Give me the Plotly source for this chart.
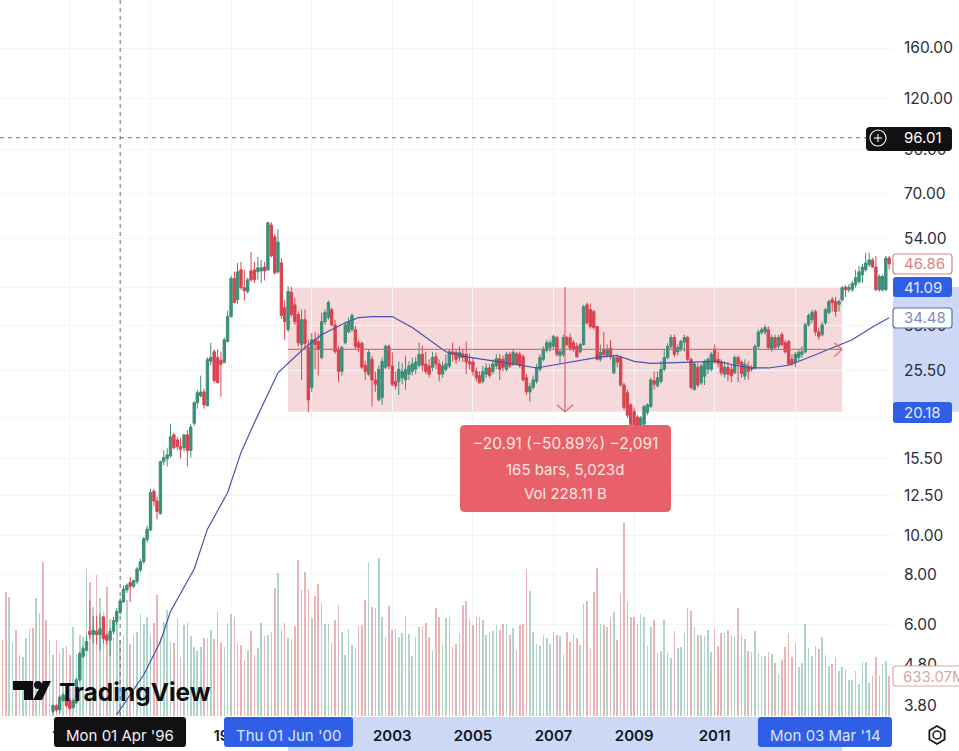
import pandas as pd
import plotly.graph_objects as go

# Monthly share price candles, Aug 1994 to May 2015
candle_dates = pd.date_range("1994-08-01", periods=250, freq="MS")

opens = [
    3.67, 3.79, 3.70, 3.90, 3.98,
    3.90, 3.75, 3.85, 4.39, 5.01, 5.19, 5.79, 5.68, 5.79, 5.68, 6.28, 5.65,
    5.50, 5.79, 6.12, 6.44, 6.84, 7.32, 7.64, 7.48, 7.68, 8.20, 8.60, 9.75,
    10.30, 12.85, 12.15, 11.3, 15.2, 15.45, 15.7, 17.7, 17.2, 16.55, 16.45, 17.7,
    16.2, 18.9, 21.25, 22.1, 22.6, 20.9, 26.9, 28.4, 27.5, 27.05, 26.75, 30.1,
    34.7, 43.1, 38.2, 45.3, 40.9, 40.0, 45.0, 45.3, 44.8, 45.0, 46.0, 45.3,
    58.4, 54.6, 44.8, 47.1, 36.5, 32.2, 39.8, 37.1, 35.1, 29.6, 34.1, 29.1,
    23.2, 30.4, 30.1, 27.5, 33.7, 34.5, 36.1, 33.1, 28.8, 25.4, 29.9, 31.8,
    32.2, 32.2, 29.9, 29.8, 26.3, 25.0, 27.2, 24.2, 21.6, 21.9, 26.0, 29.3,
    26.2, 24.0, 24.0, 24.5, 24.2, 25.0, 25.4, 25.7, 26.3, 28.0, 26.5, 26.2,
    26.0, 27.6, 26.5, 25.0, 25.7, 26.2, 28.4, 28.3, 27.5, 28.1, 28.0, 26.9,
    26.8, 25.4, 24.8, 24.0, 25.0, 25.9, 25.4, 26.2, 27.3, 27.2, 25.7, 28.0,
    26.5, 28.1, 28.0, 27.6, 24.5, 22.6, 23.2, 24.0, 25.7, 27.2, 28.6, 29.1,
    29.3, 30.8, 27.8, 28.0, 30.8, 30.8, 29.9, 29.3, 28.4, 29.6, 37.1, 36.1,
    35.7, 32.8, 27.2, 28.8, 27.8, 29.0, 25.2, 27.5, 27.5, 23.5, 22.5, 21.0,
    20.2, 19.6, 18.0, 18.8, 20.1, 20.8, 24.1, 23.4, 24.0, 25.7, 27.5, 29.3,
    30.8, 28.4, 28.9, 30.0, 30.8, 27.2, 22.9, 26.0, 23.8, 24.7, 25.7, 25.7,
    28.8, 27.2, 26.8, 25.0, 26.0, 25.7, 25.2, 27.5, 26.8, 24.7, 26.2, 26.0,
    25.9, 29.3, 31.7, 31.8, 32.2, 28.8, 30.8, 29.3, 31.3, 29.9, 30.1, 27.2,
    26.8, 27.5, 28.0, 28.4, 33.1, 34.1, 35.7, 31.8, 31.3, 33.5, 35.5, 38.2,
    37.8, 37.2, 38.2, 41.0, 40.4, 40.4, 41.6, 42.3, 44.0, 45.3, 46.6, 47.9,
    46.0, 40.4, 40.4, 40.4, 48.4,
]
highs = [
    3.83, 3.83, 4.03, 4.08, 4.03,
    3.96, 3.95, 4.44, 5.16, 5.31, 5.65, 6.88, 6.32, 6.32, 6.40, 6.32, 5.72,
    5.90, 6.28, 6.60, 7.00, 7.52, 7.60, 7.88, 7.76, 8.35, 8.75, 9.90, 10.55,
    13.0, 13.0, 12.45, 15.3, 16.2, 16.4, 18.85, 17.9, 17.5, 17.4, 17.8, 18.2,
    18.8, 21.4, 22.9, 24.8, 23.0, 27.5, 29.9, 28.8, 28.8, 28.4, 30.8, 35.9,
    43.8, 44.8, 47.1, 47.4, 45.3, 43.3, 50.2, 47.4, 48.7, 47.9, 47.4, 59.5,
    59.4, 55.5, 57.1, 48.4, 38.2, 41.3, 41.1, 38.6, 35.7, 36.1, 36.1, 30.4,
    31.6, 31.8, 31.5, 35.5, 36.1, 38.0, 36.5, 34.1, 29.4, 29.4, 33.7, 34.5,
    35.3, 32.9, 30.4, 30.1, 27.0, 28.8, 27.7, 25.4, 26.3, 27.5, 29.6, 29.6,
    28.3, 25.4, 26.9, 26.6, 27.8, 26.9, 27.5, 27.6, 29.9, 29.4, 28.4, 27.2,
    28.4, 28.3, 27.2, 26.9, 28.0, 28.8, 29.9, 28.8, 29.3, 28.8, 30.1, 28.1,
    27.5, 26.0, 25.4, 26.2, 26.6, 26.5, 27.2, 28.0, 28.1, 27.8, 28.4, 28.4,
    28.8, 28.4, 28.4, 28.0, 25.0, 23.8, 24.8, 26.5, 28.0, 29.3, 30.4, 30.4,
    31.3, 31.1, 28.8, 31.3, 31.1, 31.5, 30.4, 29.9, 29.9, 37.1, 37.6, 37.4,
    36.1, 32.9, 29.6, 31.8, 29.6, 30.4, 28.0, 28.0, 27.8, 23.8, 22.9, 21.2,
    20.7, 19.8, 19.7, 21.0, 21.2, 24.5, 25.4, 25.4, 26.9, 28.8, 29.8, 31.3,
    31.3, 29.6, 30.4, 31.3, 31.1, 27.5, 26.8, 26.6, 26.5, 27.2, 27.5, 28.4,
    29.6, 28.4, 27.2, 26.9, 26.8, 26.3, 27.8, 27.8, 27.0, 27.2, 26.9, 26.3,
    29.6, 32.2, 32.6, 33.1, 32.8, 31.3, 31.3, 31.3, 31.7, 30.4, 30.4, 28.0,
    28.4, 28.8, 29.3, 33.5, 35.3, 36.1, 36.1, 32.6, 33.7, 36.5, 38.2, 38.8,
    38.8, 38.2, 41.3, 41.5, 41.7, 42.5, 45.3, 46.3, 46.8, 49.9, 49.9, 48.4,
    49.0, 44.1, 44.1, 49.0, 49.0,
]
lows = [
    3.62, 3.65, 3.62, 3.88, 3.75,
    3.70, 3.72, 3.83, 4.34, 4.97, 5.16, 5.55, 5.40, 5.37, 5.19, 5.40, 5.37,
    5.02, 5.68, 6.00, 6.36, 6.80, 7.20, 6.84, 7.40, 7.56, 8.10, 8.50, 9.60,
    10.25, 11.8, 10.95, 11.25, 14.9, 14.8, 15.55, 16.3, 16.2, 15.5, 16.1, 14.8,
    15.55, 18.6, 20.55, 21.9, 20.55, 20.8, 26.3, 23.8, 23.7, 22.0, 26.6, 29.95,
    34.5, 37.4, 37.2, 40.4, 38.0, 39.5, 42.3, 42.0, 42.8, 42.0, 42.6, 45.0,
    48.7, 44.1, 44.3, 34.3, 30.4, 31.8, 34.7, 33.1, 29.3, 24.2, 29.1, 20.2,
    22.6, 25.7, 24.8, 27.2, 33.1, 34.1, 32.8, 28.1, 23.9, 24.8, 29.6, 31.5,
    31.8, 28.8, 28.4, 25.7, 24.2, 24.7, 20.8, 22.6, 21.4, 21.0, 25.7, 25.7,
    23.3, 22.9, 22.2, 23.6, 22.9, 24.2, 24.8, 25.0, 26.0, 25.4, 25.0, 24.5,
    25.4, 25.7, 24.0, 24.5, 25.4, 25.9, 26.9, 26.5, 26.9, 26.8, 25.0, 25.7,
    24.8, 24.0, 23.7, 23.7, 24.5, 24.5, 25.0, 25.7, 24.2, 25.4, 25.4, 25.9,
    26.2, 26.3, 25.9, 24.0, 22.2, 21.4, 22.9, 23.7, 25.4, 26.9, 28.3, 28.4,
    28.9, 27.6, 26.6, 27.6, 29.3, 28.6, 28.4, 27.5, 28.1, 29.4, 33.1, 32.4,
    32.2, 27.0, 26.9, 27.5, 27.5, 27.2, 25.0, 26.0, 23.3, 20.4, 19.5, 18.2,
    18.0, 17.6, 17.2, 18.6, 19.8, 20.6, 22.9, 23.2, 23.7, 25.4, 27.2, 28.9,
    27.6, 27.8, 28.4, 28.4, 26.9, 22.9, 22.8, 23.2, 23.5, 23.5, 25.0, 25.4,
    26.5, 26.0, 24.8, 24.5, 24.0, 23.9, 25.0, 23.9, 24.5, 24.2, 24.2, 25.4,
    25.7, 28.9, 31.3, 31.3, 28.8, 28.4, 28.8, 28.8, 29.3, 28.1, 26.3, 26.2,
    26.0, 26.9, 27.5, 28.1, 32.8, 33.5, 31.1, 30.4, 31.0, 33.1, 35.1, 35.7,
    34.7, 35.7, 37.8, 38.8, 39.8, 40.0, 40.9, 41.8, 42.0, 44.8, 46.0, 45.8,
    40.2, 40.0, 40.0, 40.2, 45.3,
]
closes = [
    3.79, 3.70, 3.98, 4.03, 3.79,
    3.73, 3.90, 4.39, 5.10, 5.25, 5.46, 5.68, 5.83, 5.68, 5.87, 5.55, 5.50,
    5.79, 6.15, 6.48, 6.88, 7.36, 7.52, 7.48, 7.72, 8.25, 8.60, 9.80, 10.35,
    12.75, 12.15, 11.45, 15.2, 15.55, 15.8, 17.5, 16.45, 16.55, 16.3, 17.7, 16.2,
    18.5, 21.25, 22.5, 22.6, 21.0, 27.2, 27.5, 24.1, 23.85, 26.45, 30.4, 34.7,
    43.1, 37.6, 44.8, 40.9, 40.2, 42.8, 42.8, 42.8, 45.8, 45.8, 45.0, 59.2,
    49.0, 44.5, 53.0, 34.9, 33.7, 40.0, 35.1, 33.7, 29.9, 34.1, 29.8, 21.6,
    30.4, 29.6, 28.8, 33.7, 35.5, 37.6, 33.1, 28.4, 25.4, 29.1, 33.1, 33.7,
    34.9, 29.3, 29.1, 26.0, 25.4, 28.3, 24.2, 23.6, 25.7, 26.9, 29.3, 26.2,
    23.6, 23.4, 25.7, 25.4, 25.7, 26.2, 26.5, 26.8, 28.0, 26.3, 25.4, 25.0,
    27.5, 26.5, 25.0, 26.2, 26.5, 28.4, 28.0, 27.2, 28.3, 27.5, 26.8, 26.5,
    25.4, 24.5, 23.8, 25.4, 25.9, 24.8, 26.5, 27.3, 25.7, 26.0, 28.0, 26.2,
    28.3, 26.6, 26.3, 24.2, 22.6, 23.3, 24.2, 26.0, 27.5, 28.8, 29.9, 29.9,
    31.0, 28.0, 28.4, 30.8, 29.6, 29.0, 28.8, 27.6, 29.6, 36.7, 33.5, 32.8,
    32.6, 27.2, 28.3, 28.0, 28.8, 27.6, 27.5, 26.8, 23.5, 20.7, 19.8, 18.8,
    18.5, 18.2, 19.5, 20.8, 21.0, 24.2, 23.6, 24.5, 25.7, 27.5, 29.3, 30.8,
    28.0, 29.1, 30.1, 30.8, 27.2, 23.2, 26.5, 23.5, 26.2, 26.9, 27.2, 28.0,
    26.9, 26.6, 25.2, 26.0, 25.0, 24.8, 27.5, 26.5, 25.1, 26.5, 25.4, 25.7,
    29.3, 31.8, 32.2, 32.6, 29.1, 30.8, 29.1, 30.8, 29.6, 28.4, 26.5, 26.5,
    28.0, 28.3, 28.4, 33.1, 34.9, 35.5, 31.8, 31.0, 33.1, 36.1, 37.8, 37.6,
    35.7, 37.8, 40.9, 40.4, 41.0, 41.9, 43.3, 44.8, 46.0, 47.1, 47.9, 46.0,
    40.4, 43.6, 43.6, 48.4, 46.86,
]

# Monthly volume in millions of shares, Apr 1993 to May 2015
volume_dates = pd.date_range("1993-04-01", periods=266, freq="MS")
volumes = [
    1309, 1204, 1969, 1890, 1177, 1362, 966, 929, 1241,
    1373, 1389, 1864, 1637, 2445, 1521, 1204,
    966, 1204, 1019, 1072, 1109,
    966, 1415, 982, 1283, 1257, 2339, 2128, 1732, 2233, 1864, 1653, 2049,
    1531, 1257, 1573, 1204, 1283, 1837, 1140, 1283, 1336, 1616, 1457, 1563,
    1283, 1468, 1917, 1257, 1494, 1679, 1177, 1151, 1547, 940, 1441, 1478,
    1267, 1098, 1030, 1098, 1230, 1241, 1362, 1214, 1642, 1151, 1088, 1478,
    1616, 1573, 1151, 1125, 887, 1045, 1352, 966, 1072, 1468, 1267, 1283,
    1336, 2033, 2260, 1362, 1468, 1241, 1220, 1431, 2471, 1996, 2276, 2006,
    1547, 1901, 2086, 1785, 1457, 1457, 1151, 1521, 1758, 1336, 966, 1378,
    1125, 1072, 1426, 1441, 1837, 2445, 1732, 1705, 2497, 1563, 1257, 1742,
    1362, 1378, 1257, 1320, 1584, 1299, 956, 1257, 1404, 1431, 1468, 1246,
    1045, 1705, 1563, 1140, 1547, 1563, 1098, 1140, 1309, 1758, 1827, 1531,
    1441, 1563, 1563, 1521, 1283, 1336, 1346, 1441, 1362, 1457, 1452, 1283,
    1389, 1045, 1441, 1457, 2323, 1980, 1336, 1135, 1109, 1283, 1241, 1140,
    1325, 1283, 1272, 966, 1325, 1177, 1299, 1241, 1125, 1769, 1827, 1072,
    1959, 2339, 1452, 1441, 1415, 1563, 1642, 1204, 1932, 3057, 1800, 1563,
    1573, 1457, 1616, 1573, 1109, 1415, 1521, 993, 1035, 1521, 1019, 913,
    1352, 1072, 1098, 1320, 1716, 1668, 1415, 1283, 1283, 1272, 1362, 1019,
    1373, 1109, 1309, 1320, 1362, 1283, 1267, 1716, 1283, 1214, 1035, 1008,
    1352, 993, 950, 950, 1008, 977, 834, 660, 887, 1098, 1309, 940,
    1151, 781, 845, 1457, 1082, 950, 1109, 1056, 1246, 966, 797, 824,
    940, 718, 781, 739, 570, 570, 718, 507, 861, 861, 517, 634,
    929, 649, 824, 876, 633.07,
]
# Direction of the months before the first candle
early_months_up = [True, False, False, True, True, False, False, True, True,
                   True, False, True, False, False, False, True]

# 60-period moving average
ma_dates = [
    "1996-03-01", "1996-11-01", "1997-04-01", "1997-07-01", "1998-02-01", "1998-06-01",
    "1998-12-01", "1999-04-01", "1999-08-01", "2000-03-01", "2000-11-01", "2001-04-01",
    "2001-11-01", "2002-03-01", "2002-07-01", "2003-01-01", "2003-07-01", "2003-12-01",
    "2004-05-01", "2004-11-01", "2005-07-01", "2006-01-01", "2006-08-01", "2007-04-01",
    "2007-09-01", "2008-03-01", "2008-08-01", "2009-01-01", "2009-06-01", "2009-11-01",
    "2010-09-01", "2011-02-01", "2011-07-01", "2011-12-01", "2012-05-01", "2012-11-01",
    "2013-05-01", "2013-12-01", "2014-06-01", "2014-12-01", "2015-05-01",
]
ma_values = [
    3.6, 4.52, 5.46, 6.48, 8.25, 10.35, 12.75, 16.0, 19.0, 25.2, 29.1, 31.3, 33.5, 34.5,
    34.7, 34.7, 32.6, 30.4, 28.4, 27.6, 27.0, 26.5, 25.9, 26.6, 27.0, 27.6, 27.8, 26.9,
    26.6, 26.7, 26.9, 26.9, 26.3, 25.9, 25.9, 26.3, 27.5, 29.1, 30.4, 32.7, 34.48,
]

price_ticks = [160, 120, 90, 70, 54, 41, 33, 25.5, 19.5, 15.5, 12.5, 10, 8, 6, 4.8, 3.8]
year_ticks = [1995, 1997, 1999, 2001, 2003, 2005, 2007, 2009, 2011, 2013]

# Measured range
range_start, range_end, range_mid = "2000-06-01", "2014-03-01", "2007-04-15"
range_high, range_low, range_geo_mid = 41.09, 20.18, 28.8
cursor_date, cursor_price = "1996-04-01", 96.01

UP, DOWN = "#3c8f78", "#d9434f"
VOL_UP, VOL_DOWN = "rgba(60,150,125,0.40)", "rgba(200,70,75,0.40)"
BLUE, BAND, INK = "#2f5fe6", "#cdd8f7", "#131722"

# Pixel geometry of the plotting area inside the 959x751 page
W, H, PLOT_W, PLOT_H = 959, 751, 893, 716
def px(x): return x / PLOT_W
def py(y): return 1 - y / PLOT_H


def rrect(x0, y0, x1, y1, r=3):
    """Rounded rectangle path in paper coordinates, from page pixels."""
    p = [
        (x0 + r, y0), (x1 - r, y0), (x1, y0), (x1, y0 + r), (x1, y1 - r), (x1, y1),
        (x1 - r, y1), (x0 + r, y1), (x0, y1), (x0, y1 - r), (x0, y0 + r), (x0, y0), (x0 + r, y0),
    ]
    f = lambda t: f"{px(t[0]):.5f},{py(t[1]):.5f}"
    return (f"M{f(p[0])} L{f(p[1])} Q{f(p[2])} {f(p[3])} L{f(p[4])} Q{f(p[5])} {f(p[6])} "
            f"L{f(p[7])} Q{f(p[8])} {f(p[9])} L{f(p[10])} Q{f(p[11])} {f(p[12])} Z")


def box(x0, y0, x1, y1, fill, line=None, r=3):
    return dict(type="path", path=rrect(x0, y0, x1, y1, r), xref="paper", yref="paper",
                fillcolor=fill, line=dict(color=line or fill, width=1.2 if line else 0), layer="above")


def poly(points, fill):
    d = "M" + " L".join(f"{px(a):.5f},{py(b):.5f}" for a, b in points) + " Z"
    return dict(type="path", path=d, xref="paper", yref="paper", fillcolor=fill,
                line=dict(width=0), layer="above")


def label(x, y, text, color, size=15, anchor="left", weight=400):
    return dict(x=px(x), y=py(y), xref="paper", yref="paper", text=text, showarrow=False,
                xanchor=anchor, yanchor="middle", font=dict(family="Inter", size=size, color=color, weight=weight))


up_flags = early_months_up + [c >= o for o, c in zip(opens, closes)]
vol_colors = [VOL_UP if u else VOL_DOWN for u in up_flags]

fig = go.Figure()
fig.add_trace(go.Bar(x=volume_dates, y=volumes, marker=dict(color=vol_colors, line=dict(width=0)),
                     width=1.25e9, yaxis="y", hoverinfo="skip"))
fig.add_trace(go.Candlestick(
    x=candle_dates, open=opens, high=highs, low=lows, close=closes, yaxis="y2",
    increasing=dict(line=dict(color=UP, width=1), fillcolor=UP),
    decreasing=dict(line=dict(color=DOWN, width=1), fillcolor=DOWN),
    whiskerwidth=0, hoverinfo="skip"))
fig.add_trace(go.Scatter(x=ma_dates, y=ma_values, yaxis="y2", mode="lines", hoverinfo="skip",
                         line=dict(color="#4653ad", width=1.2)))

RANGE_RED = "rgba(214,92,104,0.85)"
shapes = [
    # measured range fill and its highlights on both axes
    dict(type="rect", xref="x", yref="y2", x0=range_start, x1=range_end, y0=range_low, y1=range_high,
         fillcolor="rgba(214,80,90,0.22)", line=dict(width=0), layer="below"),
    dict(type="rect", xref="paper", yref="y2", x0=1, x1=W / PLOT_W, y0=range_low, y1=range_high,
         fillcolor=BAND, line=dict(width=0), layer="below"),
    dict(type="rect", xref="x", yref="paper", x0=range_start, x1=range_end, y0=py(751), y1=py(717),
         fillcolor=BAND, line=dict(width=0), layer="below"),
    # crosshair
    dict(type="line", xref="x", yref="paper", x0=cursor_date, x1=cursor_date, y0=0, y1=1,
         line=dict(color="#6a6d78", width=1, dash="4px,4px"), layer="above"),
    dict(type="line", xref="paper", yref="y2", x0=0, x1=1, y0=cursor_price, y1=cursor_price,
         line=dict(color="#6a6d78", width=1, dash="4px,4px"), layer="above"),
    # measuring arrows
    dict(type="line", xref="x", yref="y2", x0=range_start, x1=range_end, y0=range_geo_mid, y1=range_geo_mid,
         line=dict(color=RANGE_RED, width=1.3), layer="above"),
    dict(type="line", xref="x", yref="y2", x0=range_mid, x1=range_mid, y0=range_low, y1=range_high,
         line=dict(color=RANGE_RED, width=1.3), layer="above"),
    dict(type="line", xref="x", yref="y2", x0="2007-02-01", x1=range_mid, y0=21.0, y1=range_low,
         line=dict(color=RANGE_RED, width=1.2), layer="above"),
    dict(type="line", xref="x", yref="y2", x0="2007-06-28", x1=range_mid, y0=21.0, y1=range_low,
         line=dict(color=RANGE_RED, width=1.2), layer="above"),
    dict(type="line", xref="x", yref="y2", x0="2013-12-18", x1=range_end, y0=29.9, y1=range_geo_mid,
         line=dict(color=RANGE_RED, width=1.2), layer="above"),
    dict(type="line", xref="x", yref="y2", x0="2013-12-18", x1=range_end, y0=27.6, y1=range_geo_mid,
         line=dict(color=RANGE_RED, width=1.2), layer="above"),
    # floating labels
    box(460, 425, 671, 512, "#e8606a", r=5),
    box(866, 127, 952, 151, "#111114", r=4),
    dict(type="circle", xref="paper", yref="paper", x0=px(870), x1=px(886), y0=py(146), y1=py(130),
         line=dict(color="#ffffff", width=1.1), layer="above"),
    dict(type="line", xref="paper", yref="paper", x0=px(874), x1=px(882), y0=py(138), y1=py(138),
         line=dict(color="#ffffff", width=1.1), layer="above"),
    dict(type="line", xref="paper", yref="paper", x0=px(878), x1=px(878), y0=py(134), y1=py(142),
         line=dict(color="#ffffff", width=1.1), layer="above"),
    box(893, 254, 952, 274, "#ffffff", "#d5838a"),
    box(893, 277, 952, 297, BLUE),
    box(893, 308, 952, 328, "#ffffff", "#5f6ea8"),
    box(893, 402, 952, 423, BLUE),
    box(893, 666, 975, 686, "#ffffff", "#dca6a8"),
    box(54, 717, 186, 747, "#111114"),
    box(224, 717, 353, 747, BLUE),
    box(758, 717, 892, 747, BLUE),
    # TradingView mark
    poly([(13, 681), (33, 681), (33, 700), (24, 700), (24, 690), (13, 690)], "#0d0e12"),
    dict(type="circle", xref="paper", yref="paper", x0=px(34), x1=px(42), y0=py(689), y1=py(681),
         fillcolor="#0d0e12", line=dict(width=0), layer="above"),
    poly([(43, 681), (51, 681), (42, 700), (33, 700)], "#0d0e12"),
    # settings hexagon
    poly([(937, 725), (945.5, 730), (945.5, 740), (937, 745), (928.5, 740), (928.5, 730)], "#131722"),
    poly([(937, 727), (943.7, 731), (943.7, 739), (937, 743), (930.3, 739), (930.3, 731)], "#ffffff"),
    dict(type="circle", xref="paper", yref="paper", x0=px(933), x1=px(941), y0=py(739), y1=py(731),
         fillcolor="#ffffff", line=dict(color="#131722", width=1.5), layer="above"),
]

annotations = [
    label(565, 443, "−20.91 (−50.89%) −2,091", "#fde6e0", 15.5, "center"),
    label(565, 469, "165 bars, 5,023d", "#fde6e0", 15, "center"),
    label(565, 493, "Vol 228.11 B", "#fde6e0", 15, "center"),
    label(902, 138, "96.01", "#ffffff"),
    label(902, 264, "46.86", "#d8848b"),
    label(902, 287, "41.09", "#e3eaff"),
    label(902, 318, "34.48", "#7f8bc0"),
    label(902, 412, "20.18", "#e3eaff"),
    label(901, 676, "633.07M", "#dca6a8"),
    label(120, 735, "Mon 01 Apr '96", "#f0f0f0", anchor="center"),
    label(288.5, 735, "Thu 01 Jun '00", "#dbe5ff", anchor="center"),
    label(825, 735, "Mon 03 Mar '14", "#dbe5ff", anchor="center"),
    label(57, 692, "TradingView", "#0d0e12", 24.5, weight=700),
]

fig.update_layout(
    width=W, height=H, autosize=False,
    margin=dict(l=0, r=W - PLOT_W, t=0, b=H - PLOT_H),
    paper_bgcolor="#ffffff", plot_bgcolor="#ffffff",
    showlegend=False, hovermode=False,
    bargap=0, boxgap=0.15, boxgroupgap=0.1,
    shapes=shapes, annotations=annotations,
    xaxis=dict(
        type="date", range=["1993-04-08", "2015-06-05"],
        tickmode="array", tickvals=[f"{y}-01-01" for y in year_ticks], ticktext=[str(y) for y in year_ticks],
        tickfont=dict(family="Inter", size=15, color=INK, weight=600),
        ticks="", ticklabelstandoff=9, showgrid=True, gridcolor="#f3f5fa", gridwidth=1,
        showline=False, zeroline=False, rangeslider=dict(visible=False), fixedrange=True,
    ),
    yaxis=dict(range=[0, 11334], visible=False, fixedrange=True),
    yaxis2=dict(
        type="log", overlaying="y", side="right", anchor="x", range=[0.5531, 2.3228],
        tickmode="array", tickvals=price_ticks, ticktext=[f"{v:.2f}" for v in price_ticks],
        tickfont=dict(family="Inter", size=15.5, color="#2a2e39"),
        ticks="", ticklabelstandoff=10, showgrid=True, gridcolor="#f3f5fa", gridwidth=1,
        showline=False, zeroline=False, fixedrange=True,
    ),
)

fig.write_html("out.html", config=dict(displayModeBar=False))
